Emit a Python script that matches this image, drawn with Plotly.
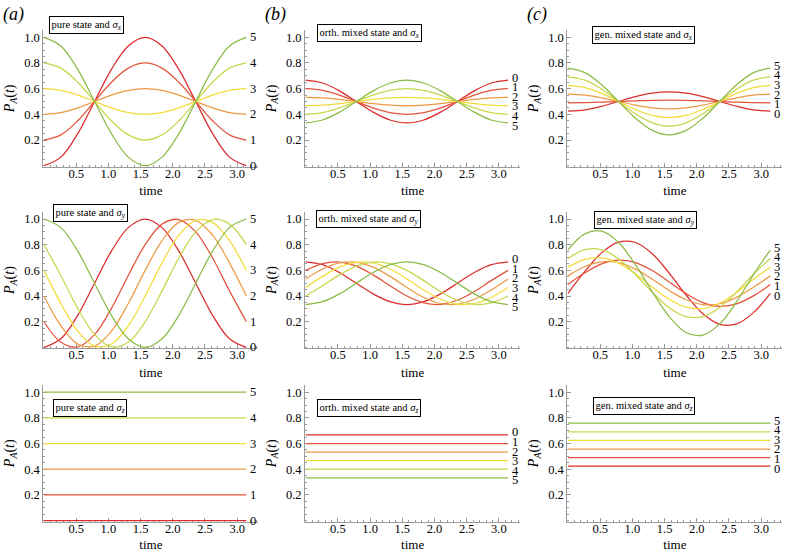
import plotly.graph_objects as go
from plotly.subplots import make_subplots

# ---------------- data ----------------
T = [0, 0.262, 0.524, 0.785, 1.047, 1.309, 1.571, 1.833, 2.094, 2.356, 2.618, 2.880, 3.142]
T_FLAT = [0, 3.142]
CURVE_LABELS = ["0", "1", "2", "3", "4", "5"]

pure_sx = [
    [0.0, 0.067, 0.25, 0.5, 0.75, 0.933, 1.0, 0.933, 0.75, 0.5, 0.25, 0.067, 0.0],
    [0.2, 0.24, 0.35, 0.5, 0.65, 0.76, 0.8, 0.76, 0.65, 0.5, 0.35, 0.24, 0.2],
    [0.4, 0.413, 0.45, 0.5, 0.55, 0.587, 0.6, 0.587, 0.55, 0.5, 0.45, 0.413, 0.4],
    [0.6, 0.587, 0.55, 0.5, 0.45, 0.413, 0.4, 0.413, 0.45, 0.5, 0.55, 0.587, 0.6],
    [0.8, 0.76, 0.65, 0.5, 0.35, 0.24, 0.2, 0.24, 0.35, 0.5, 0.65, 0.76, 0.8],
    [1.0, 0.933, 0.75, 0.5, 0.25, 0.067, 0.0, 0.067, 0.25, 0.5, 0.75, 0.933, 1.0],
]
pure_sy = [
    [0.0, 0.067, 0.25, 0.5, 0.75, 0.933, 1.0, 0.933, 0.75, 0.5, 0.25, 0.067, 0.0],
    [0.2, 0.04, 0.004, 0.1, 0.304, 0.56, 0.8, 0.96, 0.996, 0.9, 0.696, 0.44, 0.2],
    [0.4, 0.168, 0.026, 0.01, 0.126, 0.342, 0.6, 0.832, 0.974, 0.99, 0.874, 0.658, 0.4],
    [0.6, 0.342, 0.126, 0.01, 0.026, 0.168, 0.4, 0.658, 0.874, 0.99, 0.974, 0.832, 0.6],
    [0.8, 0.56, 0.304, 0.1, 0.004, 0.04, 0.2, 0.44, 0.696, 0.9, 0.996, 0.96, 0.8],
    [1.0, 0.933, 0.75, 0.5, 0.25, 0.067, 0.0, 0.067, 0.25, 0.5, 0.75, 0.933, 1.0],
]
pure_sz = [0.0, 0.2, 0.4, 0.6, 0.8, 1.0]

orth_sx = [
    [0.667, 0.644, 0.583, 0.5, 0.417, 0.356, 0.333, 0.356, 0.417, 0.5, 0.583, 0.644, 0.667],
    [0.6, 0.587, 0.55, 0.5, 0.45, 0.413, 0.4, 0.413, 0.45, 0.5, 0.55, 0.587, 0.6],
    [0.533, 0.529, 0.517, 0.5, 0.483, 0.471, 0.467, 0.471, 0.483, 0.5, 0.517, 0.529, 0.533],
    [0.467, 0.471, 0.483, 0.5, 0.517, 0.529, 0.533, 0.529, 0.517, 0.5, 0.483, 0.471, 0.467],
    [0.4, 0.413, 0.45, 0.5, 0.55, 0.587, 0.6, 0.587, 0.55, 0.5, 0.45, 0.413, 0.4],
    [0.333, 0.356, 0.417, 0.5, 0.583, 0.644, 0.667, 0.644, 0.583, 0.5, 0.417, 0.356, 0.333],
]
orth_sy = [
    [0.667, 0.644, 0.583, 0.5, 0.417, 0.356, 0.333, 0.356, 0.417, 0.5, 0.583, 0.644, 0.667],
    [0.6, 0.653, 0.665, 0.633, 0.565, 0.48, 0.4, 0.347, 0.335, 0.367, 0.435, 0.52, 0.6],
    [0.533, 0.611, 0.658, 0.663, 0.625, 0.553, 0.467, 0.389, 0.342, 0.337, 0.375, 0.447, 0.533],
    [0.467, 0.553, 0.625, 0.663, 0.658, 0.611, 0.533, 0.447, 0.375, 0.337, 0.342, 0.389, 0.467],
    [0.4, 0.48, 0.565, 0.633, 0.665, 0.653, 0.6, 0.52, 0.435, 0.367, 0.335, 0.347, 0.4],
    [0.333, 0.356, 0.417, 0.5, 0.583, 0.644, 0.667, 0.644, 0.583, 0.5, 0.417, 0.356, 0.333],
]
orth_sz = [0.667, 0.6, 0.533, 0.467, 0.4, 0.333]

gen_sx = [
    [0.425, 0.435, 0.463, 0.5, 0.538, 0.565, 0.575, 0.565, 0.538, 0.5, 0.463, 0.435, 0.425],
    [0.49, 0.491, 0.495, 0.5, 0.505, 0.509, 0.51, 0.509, 0.505, 0.5, 0.495, 0.491, 0.49],
    [0.557, 0.549, 0.529, 0.5, 0.472, 0.451, 0.443, 0.451, 0.472, 0.5, 0.529, 0.549, 0.557],
    [0.625, 0.608, 0.563, 0.5, 0.438, 0.392, 0.375, 0.392, 0.438, 0.5, 0.563, 0.608, 0.625],
    [0.692, 0.666, 0.596, 0.5, 0.404, 0.334, 0.308, 0.334, 0.404, 0.5, 0.596, 0.666, 0.692],
    [0.76, 0.725, 0.63, 0.5, 0.37, 0.275, 0.24, 0.275, 0.37, 0.5, 0.63, 0.725, 0.76],
]
gen_sy = [
    [0.421, 0.592, 0.738, 0.82, 0.817, 0.729, 0.579, 0.408, 0.262, 0.18, 0.183, 0.271, 0.421],
    [0.49, 0.581, 0.651, 0.68, 0.661, 0.599, 0.51, 0.419, 0.349, 0.32, 0.339, 0.401, 0.49],
    [0.557, 0.63, 0.667, 0.66, 0.61, 0.531, 0.443, 0.371, 0.333, 0.34, 0.39, 0.469, 0.557],
    [0.625, 0.686, 0.698, 0.656, 0.573, 0.47, 0.375, 0.314, 0.302, 0.344, 0.427, 0.53, 0.625],
    [0.692, 0.761, 0.76, 0.69, 0.568, 0.429, 0.308, 0.239, 0.24, 0.31, 0.432, 0.571, 0.692],
    [0.76, 0.884, 0.905, 0.817, 0.644, 0.433, 0.24, 0.116, 0.096, 0.183, 0.356, 0.567, 0.76],
]
gen_sz = [0.425, 0.49, 0.557, 0.625, 0.692, 0.76]

STATE_NAMES = ["pure state and ", "orth. mixed state and ", "gen. mixed state and "]
OPERATORS = ["x", "y", "z"]
PANEL_LETTERS = ["(a)", "(b)", "(c)"]
X_TICKS = [0.5, 1.0, 1.5, 2.0, 2.5, 3.0]
X_TICK_TEXT = ["0.5", "1.0", "1.5", "2.0", "2.5", "3.0"]
Y_TICKS = [0.2, 0.4, 0.6, 0.8, 1.0]
Y_TICK_TEXT = ["0.2", "0.4", "0.6", "0.8", "1.0"]

# ---------------- styling / layout ----------------
COLORS = ["#dc2b2b", "#e3533a", "#ee9944", "#f2dc3c", "#c8d64c", "#8cbb46"]
FONT = "Liberation Serif"
AXIS_GRAY = "#9a9a9a"
W, H = 786, 552
COL_X0 = [44, 305.7, 568]       # pixel of t = 0 in each column
ROW_Y0 = [165.7, 347.4, 520.6]  # pixel of P = 0 in each row
PX_T = 64.4
PX_P = 128.4
X_RANGE = [-0.01, 3.33]
Y_RANGE = [-0.008, 1.057]

# boxed panel titles: (left edge in t units, vertical centre in P units)
BOX_POS = {
    (0, 0): (0.08, 1.096), (0, 1): (0.175, 1.033), (0, 2): (0.37, 1.02),
    (1, 0): (0.14, 1.047), (1, 1): (0.165, 1.0), (1, 2): (0.40, 0.996),
    (2, 0): (0.14, 0.876), (2, 1): (0.175, 0.88), (2, 2): (0.39, 0.89),
}

grid = [[pure_sx, orth_sx, gen_sx],
        [pure_sy, orth_sy, gen_sy],
        [pure_sz, orth_sz, gen_sz]]

fig = make_subplots(rows=3, cols=3)


def spread(vals, gap):
    order = sorted(range(len(vals)), key=lambda i: vals[i])
    pos = [vals[i] for i in order]
    for _ in range(500):
        moved = False
        for i in range(len(pos) - 1):
            d = pos[i + 1] - pos[i]
            if d < gap - 1e-9:
                s = (gap - d) / 2
                pos[i] -= s
                pos[i + 1] += s
                moved = True
        if not moved:
            break
    out = [0] * len(vals)
    for k, i in enumerate(order):
        out[i] = pos[k]
    return out


annotations = []
for r in range(3):
    for c in range(3):
        data = grid[r][c]
        if r == 2:
            xs = T_FLAT
            series = [[v, v] for v in data]
        else:
            xs = T
            series = data
        for k, ys in enumerate(series):
            fig.add_trace(go.Scatter(
                x=xs, y=ys, mode="lines",
                line=dict(color=COLORS[k], width=1.25, shape="spline", smoothing=1),
                showlegend=False, hoverinfo="skip"), row=r + 1, col=c + 1)
        # right-hand curve labels
        ends = [s[-1] for s in series]
        lab_y = spread(ends, 9.6 / PX_P)
        idx = r * 3 + c + 1
        xref = "x" if idx == 1 else f"x{idx}"
        yref = "y" if idx == 1 else f"y{idx}"
        for k in range(len(series)):
            annotations.append(dict(
                x=xs[-1], y=lab_y[k], xref=xref, yref=yref, text=CURVE_LABELS[k],
                showarrow=False, xanchor="left", yanchor="middle", xshift=2,
                font=dict(family=FONT, size=12.5, color="black")))
        # boxed title (paper coordinates)
        bx, by = BOX_POS[(r, c)]
        annotations.append(dict(
            x=(COL_X0[c] + bx * PX_T) / W, y=1 - (ROW_Y0[r] - by * PX_P) / H,
            xref="paper", yref="paper",
            text=f"{STATE_NAMES[c]}<i>σ</i><sub><i>{OPERATORS[r]}</i></sub>",
            showarrow=False, xanchor="left", yanchor="middle",
            bordercolor="black", borderwidth=1, borderpad=1.5, bgcolor="white",
            font=dict(family=FONT, size=10.5, color="black")))
        # axes
        x0 = COL_X0[c] + X_RANGE[0] * PX_T
        x1 = COL_X0[c] + X_RANGE[1] * PX_T
        y0 = ROW_Y0[r] - Y_RANGE[0] * PX_P
        y1 = ROW_Y0[r] - Y_RANGE[1] * PX_P
        fig.update_xaxes(
            domain=[x0 / W, x1 / W], range=X_RANGE,
            showline=True, linecolor=AXIS_GRAY, linewidth=1, layer="below traces",
            ticks="inside", ticklen=4, tickwidth=1, tickcolor=AXIS_GRAY,
            tickvals=X_TICKS, ticktext=X_TICK_TEXT, ticklabelstandoff=-5,
            minor=dict(dtick=0.1, tick0=0, ticks="inside", ticklen=2, tickcolor=AXIS_GRAY, showgrid=False),
            showgrid=False, zeroline=False,
            tickfont=dict(family=FONT, size=12.5, color="black"),
            title=dict(text="time", font=dict(family=FONT, size=13, color="black"), standoff=6),
            row=r + 1, col=c + 1)
        fig.update_yaxes(
            domain=[1 - y0 / H, 1 - y1 / H], range=Y_RANGE,
            showline=True, linecolor=AXIS_GRAY, linewidth=1, layer="below traces",
            ticks="inside", ticklen=4, tickwidth=1, tickcolor=AXIS_GRAY,
            tickvals=Y_TICKS, ticktext=Y_TICK_TEXT,
            minor=dict(dtick=0.05, tick0=0, ticks="inside", ticklen=2, tickcolor=AXIS_GRAY, showgrid=False),
            showgrid=False, zeroline=False,
            tickfont=dict(family=FONT, size=12.5, color="black"),
            title=dict(text="<i>P</i><sub><i>A</i></sub>(<i>t</i>)",
                       font=dict(family=FONT, size=14, color="black"), standoff=6),
            row=r + 1, col=c + 1)

for c in range(3):
    annotations.append(dict(
        x=(COL_X0[c] - 43) / W, y=1 - 14 / H, xref="paper", yref="paper",
        text=f"<i>{PANEL_LETTERS[c]}</i>", showarrow=False,
        xanchor="left", yanchor="middle",
        font=dict(family=FONT, size=18, color="black")))

fig.update_layout(
    width=W, height=H, autosize=False,
    margin=dict(l=0, r=0, t=0, b=0),
    paper_bgcolor="white", plot_bgcolor="white",
    annotations=annotations,
    font=dict(family=FONT),
)

fig.write_html("out.html", config={"displayModeBar": False},
               post_script="document.body.style.margin='0';document.body.style.padding='0';")
